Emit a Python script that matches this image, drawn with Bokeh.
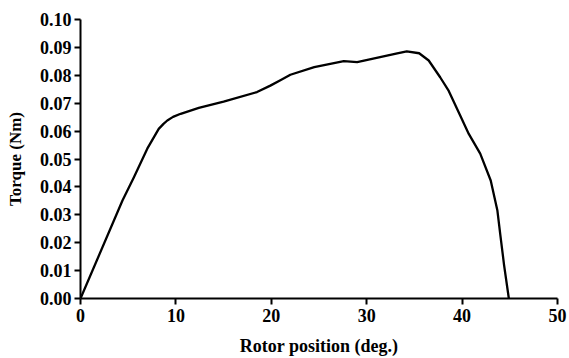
from bokeh.plotting import figure
from bokeh.embed import file_html
from bokeh.resources import INLINE
from bokeh.models import Range1d, FixedTicker

rotor_position = [0, 4.4, 5.6, 7.0, 8.2, 8.7, 9.1, 9.7, 10.5, 12.4, 15.0, 18.5, 19.9, 21.0,
                  22.0, 24.5, 27.6, 29.0, 31.4, 33.2, 34.2, 35.5, 36.5, 37.7, 38.6, 39.8,
                  40.7, 41.9, 43.0, 43.7, 44.0, 44.4, 44.9]
torque = [0, 0.0351, 0.0435, 0.0537, 0.0608, 0.0626, 0.0638, 0.0651, 0.0662, 0.0683,
          0.0706, 0.0740, 0.0763, 0.0783, 0.0802, 0.0829, 0.0851, 0.0847, 0.0865,
          0.0879, 0.0886, 0.0879, 0.0853, 0.0793, 0.0744, 0.0656, 0.0590, 0.0519,
          0.0423, 0.0315, 0.0230, 0.0120, 0.0]

x_ticks = [0, 10, 20, 30, 40, 50]
y_ticks = [0.00, 0.01, 0.02, 0.03, 0.04, 0.05, 0.06, 0.07, 0.08, 0.09, 0.10]

FONT = "Liberation Serif"

p = figure(width=569, height=358, output_backend="svg", toolbar_location=None,
           x_range=Range1d(0, 50), y_range=Range1d(0, 0.10),
           min_border_left=80, min_border_right=12, min_border_top=19, min_border_bottom=60)
p.outline_line_color = None
p.grid.grid_line_color = None
p.background_fill_color = "white"
p.border_fill_color = "white"

p.line(rotor_position, torque, line_color="black", line_width=2.3, line_join="round")

p.xaxis.ticker = FixedTicker(ticks=x_ticks)
p.yaxis.ticker = FixedTicker(ticks=y_ticks)
p.yaxis.major_label_overrides = {t: f"{t:.2f}" for t in y_ticks}

for ax in (p.xaxis[0], p.yaxis[0]):
    ax.axis_line_width = 2
    ax.axis_line_color = "black"
    ax.major_tick_line_width = 2
    ax.major_tick_line_color = "black"
    ax.major_tick_in = 0
    ax.major_tick_out = 6
    ax.minor_tick_line_color = None
    ax.major_label_text_font = FONT
    ax.major_label_text_font_style = "bold"
    ax.major_label_text_font_size = "18px"
    ax.major_label_text_color = "black"
    ax.axis_label_text_font = FONT
    ax.axis_label_text_font_style = "bold"
    ax.axis_label_text_color = "black"

p.xaxis.axis_label_text_font_size = "18px"
p.yaxis.axis_label_text_font_size = "17px"
p.xaxis.axis_label = "Rotor position (deg.)"
p.yaxis.axis_label = "Torque (Nm)"
p.xaxis.major_label_standoff = 4
p.yaxis.major_label_standoff = 3
p.xaxis.axis_label_standoff = 11
p.yaxis.axis_label_standoff = 12

open("out.html", "w").write(file_html(p, INLINE))
